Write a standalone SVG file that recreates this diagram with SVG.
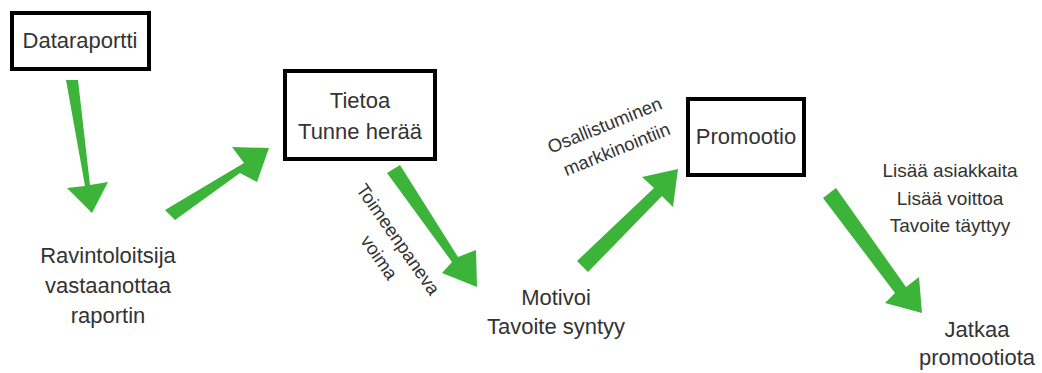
<svg xmlns="http://www.w3.org/2000/svg" width="1042" height="373" viewBox="0 0 1042 373">
<style>
.box{fill:#fff;stroke:#000;stroke-width:4}
.t{font-family:"Liberation Sans",Arial,sans-serif;fill:#333;text-anchor:middle}
.big{font-size:22px}
.sm{font-size:19px}
.rot{font-size:18.5px}
.arr{fill:#3cb43a}
</style>
<rect width="1042" height="373" fill="#fff"/>
<g id="n-dataraportti"><rect class="box" x="12" y="13" width="137" height="56"/><text class="t big" x="80" y="48">Dataraportti</text></g>
<g id="n-ravintoloitsija"><text class="t big" x="108" y="263">Ravintoloitsija</text><text class="t big" x="108" y="293">vastaanottaa</text><text class="t big" x="108" y="323">raportin</text></g>
<g id="n-tietoa"><rect class="box" x="285" y="71" width="150" height="88"/><text class="t big" x="360" y="108">Tietoa</text><text class="t big" x="360" y="139">Tunne herää</text></g>
<g id="n-motivoi"><text class="t big" x="556" y="305">Motivoi</text><text class="t big" x="556" y="334">Tavoite syntyy</text></g>
<g id="n-promootio"><rect class="box" x="688" y="99" width="116" height="76"/><text class="t big" x="746" y="144">Promootio</text></g>
<g id="n-lisaa"><text class="t sm" x="950" y="177">Lisää asiakkaita</text><text class="t sm" x="950" y="205">Lisää voittoa</text><text class="t sm" x="950" y="232">Tavoite täyttyy</text></g>
<g id="n-jatkaa"><text class="t big" x="977" y="337">Jatkaa</text><text class="t big" x="977" y="365">promootiota</text></g>
<g id="connectors">
<polygon class="arr" points="66,80 78,80 90,185 108,182 92,213 67,188 85,186"/>
<polygon class="arr" points="165,210 175,220 240,173 257,182 269,148 232,147 244,163"/>
<polygon class="arr" points="387,173 400,165 458,257 476,250 477,287 442,273 452,262"/>
<polygon class="arr" points="577,261 588,272 662,196 673,207 678,169 642,177 654,188"/>
<polygon class="arr" points="823,198 836,188 906,287 919,277 922,313 885,303 895,293"/>
<text class="t rot" transform="translate(393,243) rotate(55)">Toimeenpaneva</text>
<text class="t rot" transform="translate(374,261) rotate(55)">voima</text>
<text class="t rot" transform="translate(607,131) rotate(-22)">Osallistuminen</text>
<text class="t rot" transform="translate(619,155) rotate(-22)">markkinointiin</text>
</g>
</svg>
